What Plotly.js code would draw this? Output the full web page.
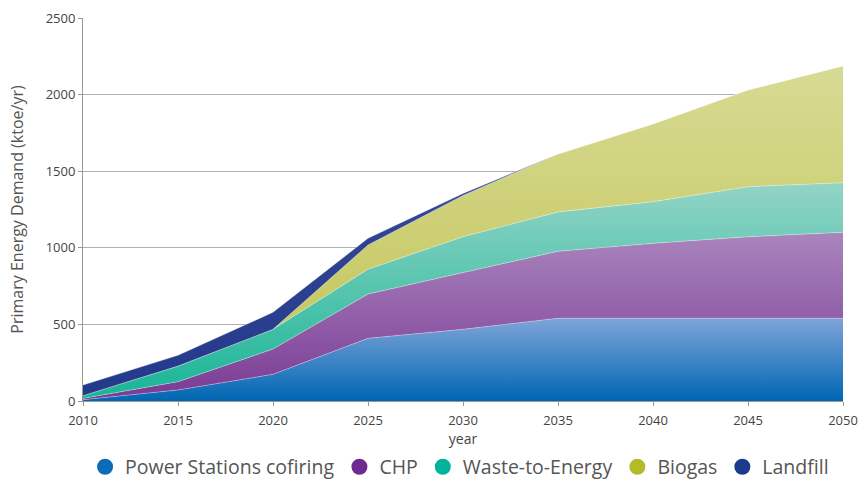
<!DOCTYPE html>
<html><head><meta charset="utf-8">
<script src="https://cdn.plot.ly/plotly-3.0.1.min.js"></script>
<style>html,body{margin:0;padding:0;background:#fff}#chart{width:859px;height:481px}</style>
</head><body><div id="chart"></div>
<script>
const years = [2010, 2015, 2020, 2025, 2030, 2035, 2040, 2045, 2050];
const powerStations = [8, 72, 174, 409, 468, 540, 540, 540, 540];
const chp = [9, 54, 165, 289, 370, 437, 489, 532, 561];
const wasteToEnergy = [18, 102, 129, 162, 234, 257, 272, 327, 324];
const biogas = [0, 0, 0, 158, 270, 378, 507, 631, 762];
const landfill = [69, 70, 111, 44, 13, 0, 0, 0, 0];
const seriesNames = ['Power Stations cofiring', 'CHP', 'Waste-to-Energy', 'Biogas', 'Landfill'];
const legendColors = ['#0a6cb6', '#6e2a8e', '#00b39a', '#b3bb2a', '#1a3a8c'];
const gradients = [
  ['#0066b3', '#7ea4d8'],
  ['#7a3a94', '#a985bd'],
  ['#18b596', '#93d4c6'],
  ['#c2c455', '#d7da93'],
  ['#23398a', '#3f4f9c']
];
const series = [powerStations, chp, wasteToEnergy, biogas, landfill];

const traces = [];
series.forEach((vals, i) => {
  traces.push({
    x: years, y: vals, name: seriesNames[i], type: 'scatter', mode: 'lines',
    stackgroup: 'one', showlegend: false, hoverinfo: 'x+y+name',
    line: {width: 0.7, color: 'rgba(255,255,255,0.45)'},
    fillcolor: gradients[i][0],
    fillgradient: {type: 'vertical', colorscale: [[0, gradients[i][0]], [1, gradients[i][1]]]}
  });
});
series.forEach((vals, i) => {
  traces.push({
    x: [null], y: [null], name: seriesNames[i], type: 'scatter', mode: 'markers',
    showlegend: true, marker: {symbol: 'circle', size: 21, color: legendColors[i]}
  });
});

const layout = {
  width: 859, height: 481,
  margin: {l: 83, r: 16, t: 18, b: 80, autoexpand: false},
  paper_bgcolor: '#fff', plot_bgcolor: '#fff',
  font: {family: 'Open Sans, sans-serif', color: '#444'},
  xaxis: {
    range: [2010, 2050], tickvals: years, ticktext: years.map(String),
    showgrid: false, zeroline: false, showline: true, linecolor: '#999', linewidth: 1,
    ticks: 'outside', ticklen: 4, tickcolor: '#999', automargin: false,
    ticklabelstandoff: 3,
    tickfont: {size: 13, color: '#444'},
    title: {text: 'year', font: {size: 14, color: '#444'}, standoff: 0}
  },
  yaxis: {
    range: [0, 2500], tickvals: [0, 500, 1000, 1500, 2000, 2500],
    showgrid: true, gridcolor: '#b0b0b0', gridwidth: 1, zeroline: false,
    showline: true, linecolor: '#999', linewidth: 1, automargin: false,
    ticks: 'outside', ticklen: 4, tickcolor: '#999',
    tickfont: {size: 13, color: '#444'},
    title: {text: 'Primary Energy Demand (ktoe/yr)', font: {size: 16, color: '#555'}, standoff: 18}
  },
  legend: {
    orientation: 'h', x: 0.535, xanchor: 'center', xref: 'container',
    y: 0.029, yanchor: 'middle', yref: 'container', traceorder: 'normal',
    font: {size: 19.5, color: '#555'}, itemsizing: 'trace', itemwidth: 30
  },
  showlegend: true
};
Plotly.newPlot('chart', traces, layout, {displayModeBar: false, staticPlot: true});
</script>
</body></html>
